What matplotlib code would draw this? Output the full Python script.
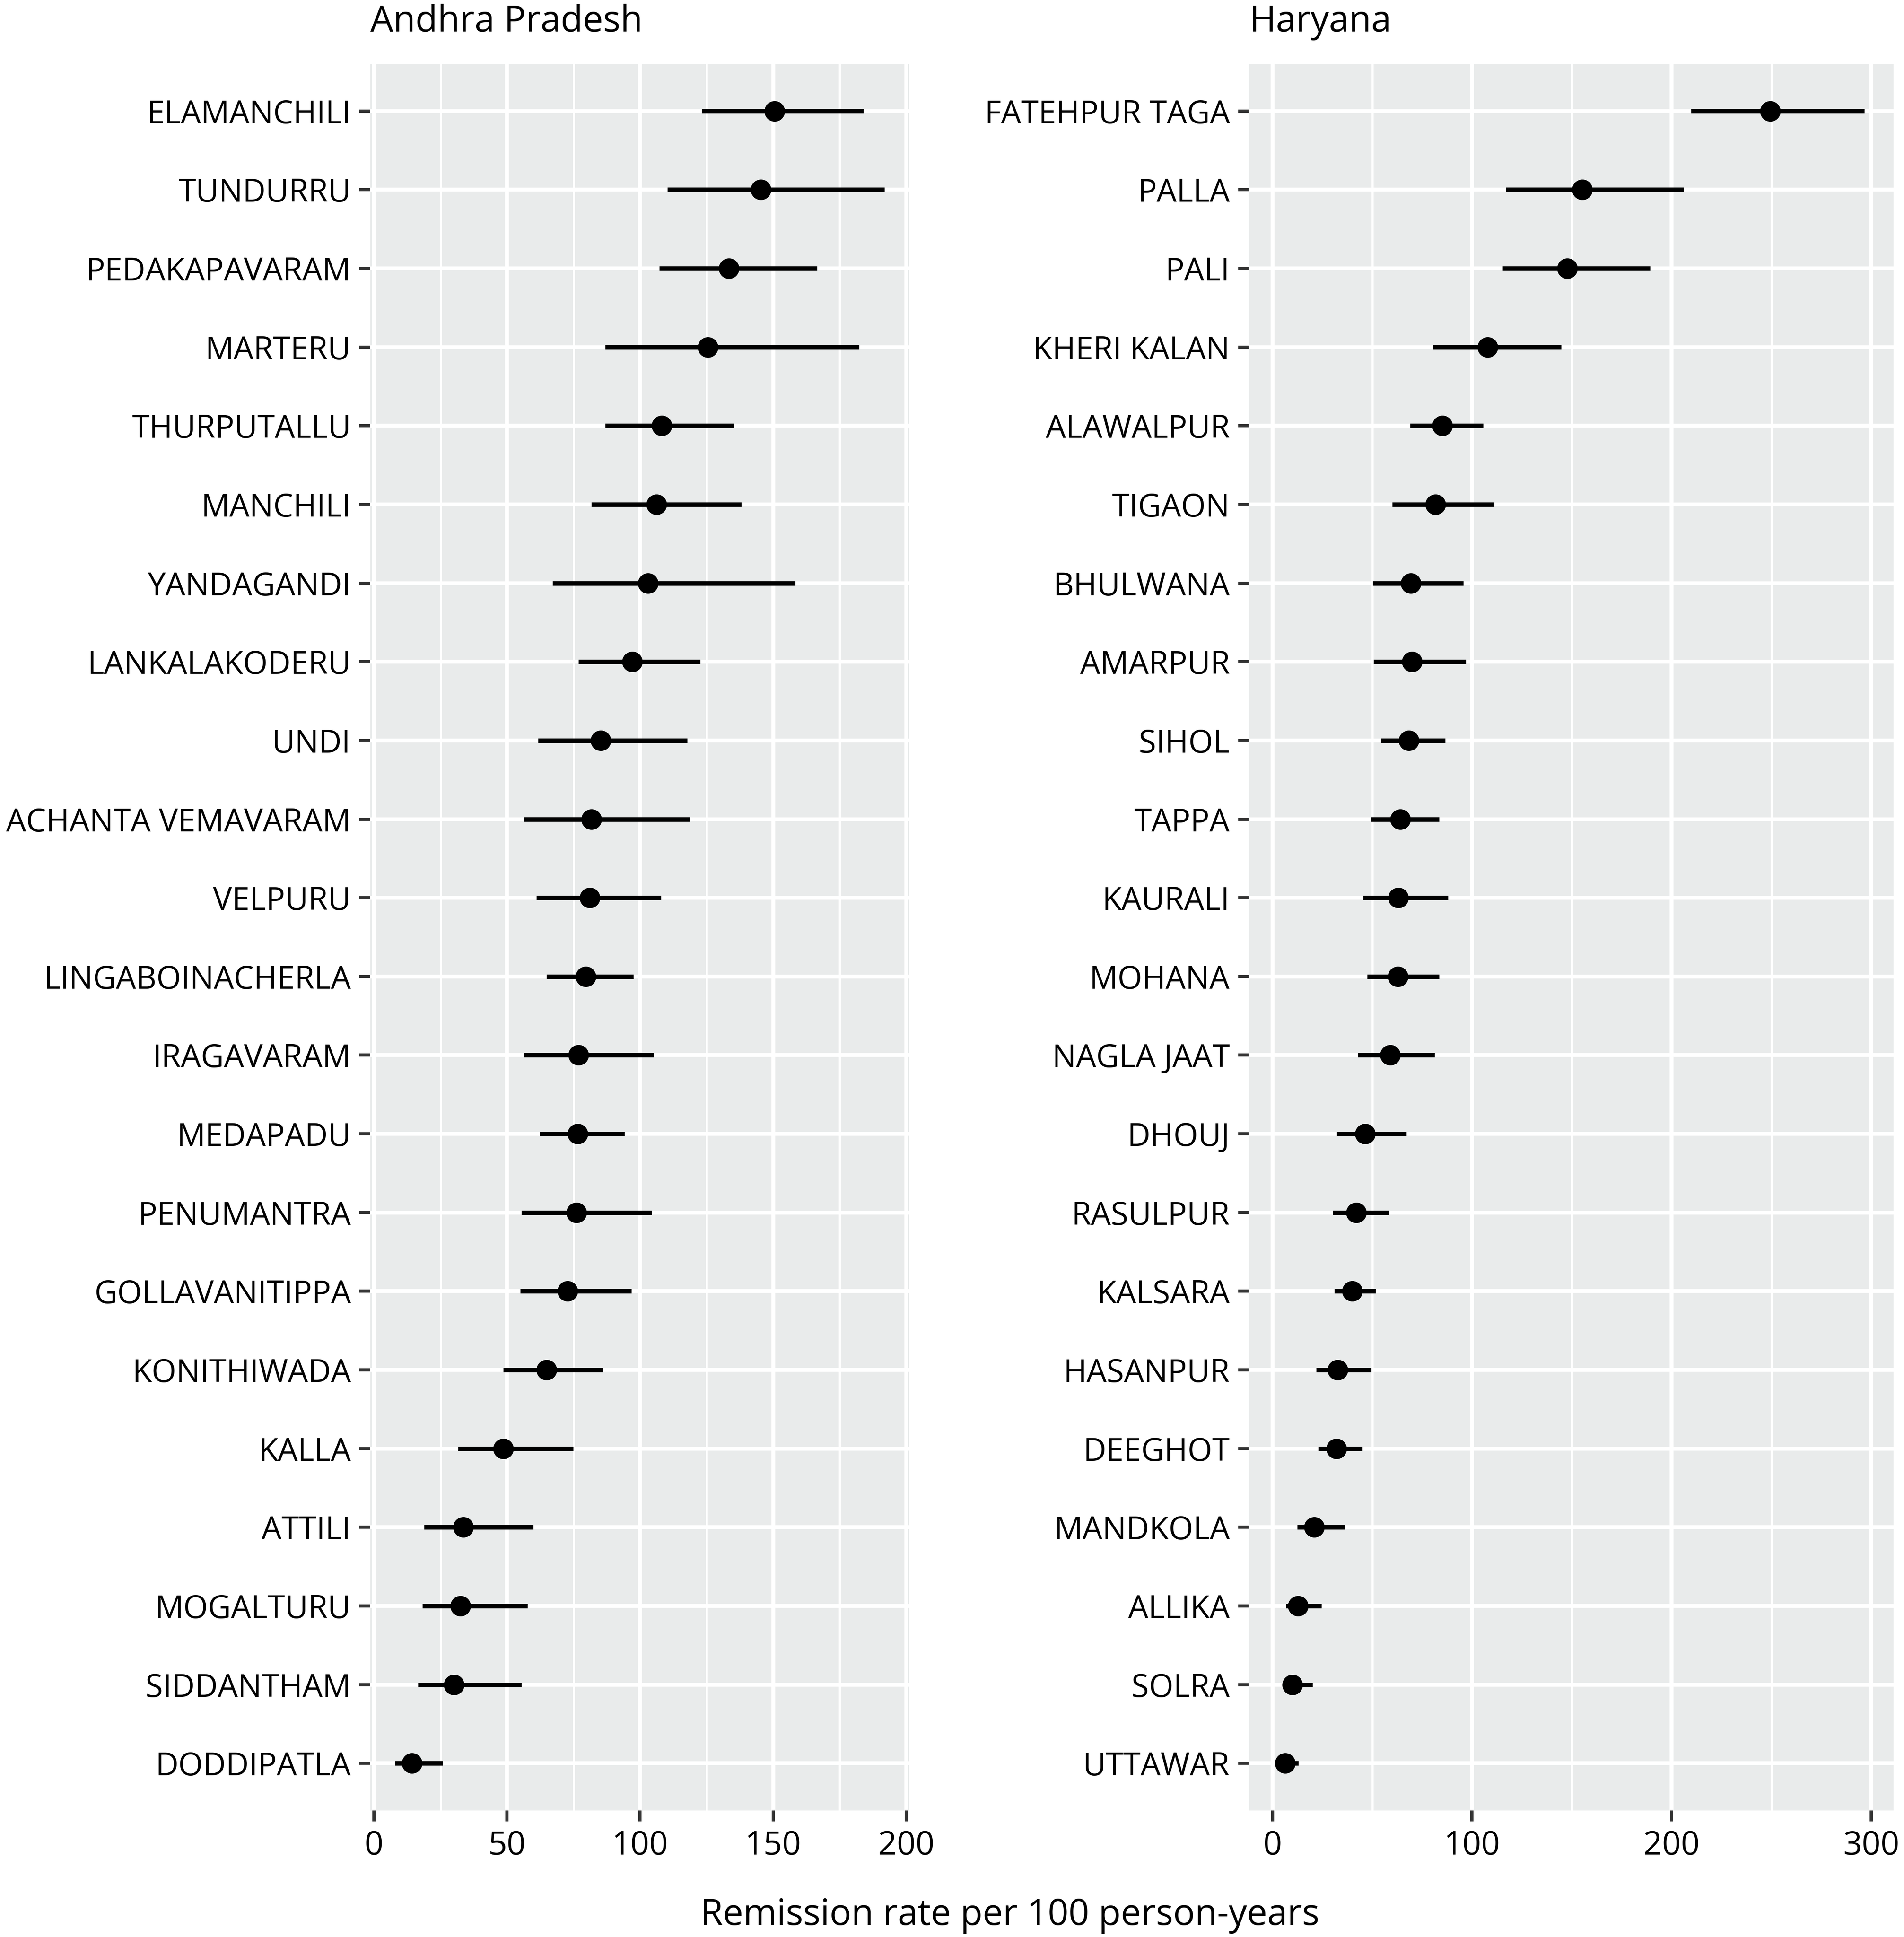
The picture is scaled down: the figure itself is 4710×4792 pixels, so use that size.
import matplotlib.pyplot as plt
import numpy as np

# Andhra Pradesh villages, top to bottom
ap_villages = ["ELAMANCHILI", "TUNDURRU", "PEDAKAPAVARAM", "MARTERU", "THURPUTALLU",
               "MANCHILI", "YANDAGANDI", "LANKALAKODERU", "UNDI", "ACHANTA VEMAVARAM",
               "VELPURU", "LINGABOINACHERLA", "IRAGAVARAM", "MEDAPADU", "PENUMANTRA",
               "GOLLAVANITIPPA", "KONITHIWADA", "KALLA", "ATTILI", "MOGALTURU",
               "SIDDANTHAM", "DODDIPATLA"]
ap_rate = [150.5, 145.3, 133.4, 125.4, 108.2, 106.1, 103.0, 97.0, 85.2, 81.7,
           81.1, 79.5, 76.9, 76.5, 76.1, 72.7, 64.8, 48.6, 33.6, 32.5, 30.1, 14.3]
ap_lo = [123.2, 110.3, 107.2, 86.8, 86.8, 81.7, 67.1, 76.8, 61.7, 56.3,
         61.0, 64.8, 56.3, 62.2, 55.4, 54.9, 48.6, 31.5, 18.8, 18.2, 16.5, 7.8]
ap_hi = [183.9, 191.9, 166.4, 182.2, 135.1, 138.1, 158.2, 122.6, 117.7, 118.8,
         107.9, 97.5, 105.1, 94.2, 104.4, 96.7, 85.9, 74.8, 59.8, 57.7, 55.4, 25.8]

# Haryana villages, top to bottom
hr_villages = ["FATEHPUR TAGA", "PALLA", "PALI", "KHERI KALAN", "ALAWALPUR", "TIGAON",
               "BHULWANA", "AMARPUR", "SIHOL", "TAPPA", "KAURALI", "MOHANA",
               "NAGLA JAAT", "DHOUJ", "RASULPUR", "KALSARA", "HASANPUR", "DEEGHOT",
               "MANDKOLA", "ALLIKA", "SOLRA", "UTTAWAR"]
hr_rate = [249.4, 155.2, 147.7, 107.9, 85.1, 81.7, 69.3, 70.0, 68.4, 64.0, 63.0,
           62.9, 59.0, 46.4, 41.9, 39.9, 32.7, 32.0, 21.0, 12.8, 9.9, 6.3]
hr_lo = [209.8, 117.0, 115.4, 80.5, 68.9, 60.0, 50.4, 50.8, 54.4, 49.2, 45.5,
         47.4, 42.9, 32.2, 30.3, 31.1, 21.9, 22.9, 12.5, 6.7, 5.5, 3.0]
hr_hi = [296.5, 206.0, 189.2, 144.6, 105.6, 111.0, 95.6, 96.9, 86.5, 83.5, 87.9,
         83.6, 81.3, 67.1, 58.2, 51.7, 49.5, 45.1, 36.3, 24.5, 20.2, 13.1]

ap_ticks = [0, 50, 100, 150, 200]
hr_ticks = [0, 100, 200, 300]

plt.rcParams['font.family'] = ['Open Sans', 'DejaVu Sans']

W, H = 4710, 4792
fig = plt.figure(figsize=(W / 300, H / 300), dpi=300)

panel_bottom = 1 - 4479 / H
panel_height = (4479 - 158) / H


def draw_panel(ax, names, rate, lo, hi, ticks):
    n = len(names)
    y = np.arange(n)[::-1] + 1
    ax.set_facecolor('#E9EBEB')

    # free scale with ggplot-style 5% expansion
    xmin, xmax = min(lo), max(hi)
    pad = 0.05 * (xmax - xmin)
    ax.set_xlim(xmin - pad, xmax + pad)
    ax.set_ylim(0.4, n + 0.6)

    ax.set_xticks(ticks)
    minor = [(a + b) / 2 for a, b in zip(ticks[:-1], ticks[1:])]
    ax.set_xticks(minor, minor=True)
    ax.set_yticks(y)
    ax.set_yticklabels(names)

    ax.grid(True, which='major', color='white', linewidth=2.3)
    ax.grid(True, which='minor', axis='x', color='white', linewidth=1.2)
    ax.set_axisbelow(True)
    for s in ax.spines.values():
        s.set_visible(False)

    ax.tick_params(which='major', length=6.5, width=1.9, color='#333333',
                   labelsize=18.8, labelcolor='black', pad=5)
    ax.tick_params(axis='x', which='major', labelsize=19.5)
    ax.tick_params(which='minor', length=0)

    ax.hlines(y, lo, hi, color='black', linewidth=2.7, zorder=3)
    ax.plot(rate, y, 'o', color='black', markersize=11.2, zorder=4)


ax1 = fig.add_axes([916 / W, panel_bottom, (2249 - 916) / W, panel_height])
draw_panel(ax1, ap_villages, ap_rate, ap_lo, ap_hi, ap_ticks)

ax2 = fig.add_axes([3090 / W, panel_bottom, (4684 - 3090) / W, panel_height])
draw_panel(ax2, hr_villages, hr_rate, hr_lo, hr_hi, hr_ticks)

fig.text(916 / W, 1 - 78 / H, "Andhra Pradesh", fontsize=21.5, ha='left', va='baseline')
fig.text(3090 / W, 1 - 78 / H, "Haryana", fontsize=21.5, ha='left', va='baseline')

fig.text(2498 / W, 1 - 4762 / H, "Remission rate per 100 person-years",
         fontsize=21.5, ha='center', va='baseline')

fig.savefig("out.png", dpi=300)
